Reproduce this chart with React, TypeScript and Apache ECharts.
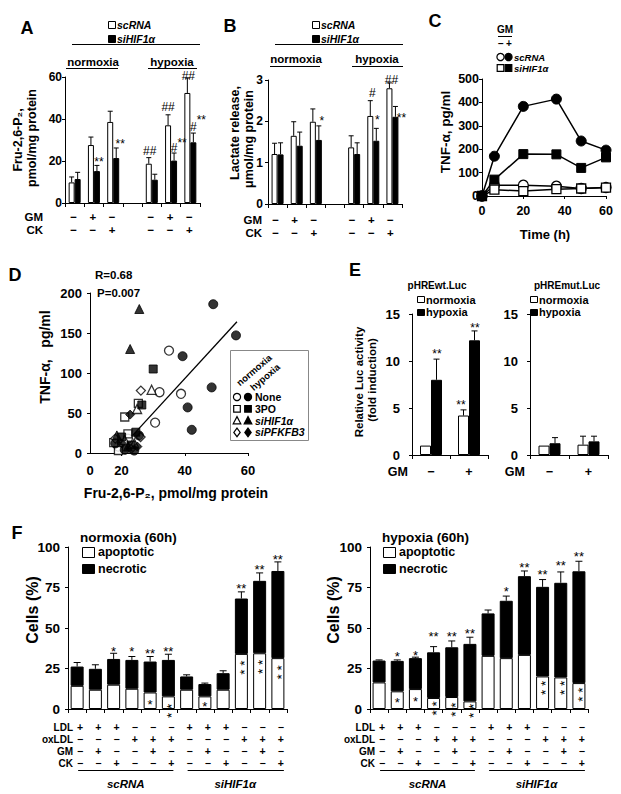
import React, { useEffect, useRef } from "react";
import * as echarts from "echarts";

const FF = "'Liberation Sans', Arial, 'DejaVu Sans', sans-serif";

// ---------- Panel A : Fru-2,6-P2 ----------
const aCats = ["n1", "n2", "n3", "gap", "h1", "h2", "h3"];
const aScRNA = [9.8, 27.6, 38.6, null, 18.7, 37.0, 52.4];
const aScRNAErr = [12.4, 31.4, 43.7, null, 21.6, 42.0, 59.5];
const aSiHIF = [11.4, 15.2, 21.4, null, 11.1, 20.2, 28.9];
const aSiHIFErr = [14.6, 17.9, 26.2, null, 13.7, 23.8, 33.3];
const aNotes = [
  { c: 4, v: 24.6, dx: -2, t: "##" },
  { c: 5, v: 45.7, dx: -3, t: "##" },
  { c: 6, v: 60.7, dx: -2, t: "##" },
  { c: 1, v: 21, dx: 5, t: "**" },
  { c: 2, v: 29.3, dx: 7, t: "**" },
  { c: 5, v: 26.2, dx: 3, t: "#" },
  { c: 5, v: 30.2, dx: 11, t: "**" },
  { c: 6, v: 36.2, dx: 3, t: "#" },
  { c: 6, v: 41, dx: 11, t: "**" },
];

// ---------- Panel B : lactate ----------
const bCats = ["n1", "n2", "n3", "gap", "h1", "h2", "h3"];
const bScRNA = [1.21, 1.65, 1.99, null, 1.37, 2.13, 2.8];
const bScRNAErr = [1.47, 1.99, 2.3, null, 1.65, 2.5, 2.93];
const bSiHIF = [1.2, 1.41, 1.55, null, 1.21, 1.53, 2.11];
const bSiHIFErr = [1.48, 1.74, 1.89, null, 1.48, 1.83, 2.36];
const bNotes = [
  { c: 2, v: 2.07, dx: 6, t: "*" },
  { c: 5, v: 2.68, dx: -1, t: "#" },
  { c: 5, v: 2.1, dx: 4, t: "*" },
  { c: 6, v: 3.0, dx: -1, t: "##" },
  { c: 6, v: 2.15, dx: 9, t: "**" },
];
const abGM = ["−", "+", "−", "", "−", "+", "−"];
const abCK = ["−", "−", "+", "", "−", "−", "+"];

// ---------- Panel C : TNF-α time course ----------
const cTime = [0, 6, 20, 36, 48, 60];
const cScNeg = [0, 46, 46, 42, 32, 36];
const cSiNeg = [0, 27, 21, 29, 32, 36];
const cScPos = [0, 170, 383, 414, 235, 196];
const cSiPos = [0, 70, 179, 178, 120, 165];

// ---------- Panel D : correlation ----------
const dNoneN = [[35, 128], [32, 76], [38.8, 74], [30.6, 38], [19, 8], [22, 18]];
const dNoneH = [[49, 186], [56.2, 147], [39.3, 121], [48.5, 82], [40.9, 57], [42.2, 29], [21, 4], [24, 3], [25.5, 22], [18, 12]];
const d3poN = [[21, 45], [25.3, 62], [17.5, 13], [19, 3], [22, 24]];
const d3poH = [[30, 105], [26.4, 60], [20, 20], [23, 10], [24.5, 26]];
const dSiHifN = [[29.5, 79], [24.9, 55], [21, 16], [24, 12]];
const dSiHifH = [[25.6, 180], [22.7, 130], [22, 8], [18.5, 22]];
const dSiPfkN = [[26.1, 78], [26, 20], [18, 18], [23, 5]];
const dSiPfkH = [[22.7, 48], [20, 12], [25, 8]];
const dFit = [[23.5, 22], [56.5, 164]];

// ---------- Panel E : luciferase ----------
const eCats = ["−", "+"];
const eWtNorm = [1.0, 4.2];
const eWtNormErr = [1.0, 4.8];
const eWtHyp = [8.0, 12.2];
const eWtHypErr = [10.2, 13.2];
const eMutNorm = [1.0, 1.1];
const eMutNormErr = [1.0, 2.0];
const eMutHyp = [1.25, 1.45];
const eMutHypErr = [1.85, 2.0];
const eNotes = [
  { c: 0, v: 11.1, dx: 6, t: "**" },
  { c: 1, v: 5.6, dx: -8, t: "**" },
  { c: 1, v: 13.8, dx: 6, t: "**" },
];

// ---------- Panel F : cell death ----------
const fCats = ["1", "2", "3", "4", "5", "6", "7", "8", "9", "10", "11", "12"];
const fNormApop = [14.3, 11.9, 15, 12.5, 10.2, 7.8, 11.9, 7.8, 11.9, 34, 34.4, 31.4];
const fNormNecr = [11.9, 12.9, 15.9, 17.8, 19.1, 22.5, 8.2, 7.6, 10.2, 34.2, 44.7, 53.8];
const fNormErr = [28.7, 27.3, 34.4, 32.4, 32.4, 33.8, 21.1, 16, 23.6, 72.3, 84, 90.8];
const fHypApop = [16.4, 10.9, 12.3, 6.8, 7.4, 4.7, 32.8, 31.4, 33.4, 20.1, 19.5, 16];
const fHypNecr = [13.5, 18.8, 19.1, 28.2, 30.7, 35.5, 26.2, 35.4, 48.6, 55.3, 58.4, 69];
const fHypErr = [30.3, 30.3, 32, 38.5, 42, 44.3, 61.1, 69.7, 85.2, 79.9, 84.6, 91.2];
// "*|*" = two asterisks stacked vertically
const fNormNotes = [
  { c: 2, v: 37.5, dx: 0, t: "*" }, { c: 3, v: 37.5, dx: 0, t: "*" },
  { c: 4, v: 36.5, dx: 0, t: "**" }, { c: 5, v: 37.5, dx: 0, t: "**" },
  { c: 9, v: 76.4, dx: 0, t: "**" }, { c: 10, v: 88, dx: 0, t: "**" }, { c: 11, v: 94.3, dx: 0, t: "**" },
  { c: 4, v: 4.7, dx: 0, t: "*" }, { c: 5, v: -1.2, dx: 0, t: "*|*" },
  { c: 7, v: 3.7, dx: 0, t: "*" },
  { c: 9, v: 25.6, dx: 0, t: "*|*" },
  { c: 10, v: 26, dx: 0, t: "*|*" },
  { c: 11, v: 22.6, dx: 0, t: "*|*" },
];
const fHypNotes = [
  { c: 1, v: 34.4, dx: 0, t: "*" }, { c: 2, v: 34.8, dx: 0, t: "*" },
  { c: 3, v: 46.7, dx: 0, t: "**" }, { c: 4, v: 46.7, dx: 0, t: "**" }, { c: 5, v: 48.8, dx: 0, t: "**" },
  { c: 7, v: 74.4, dx: 0, t: "*" }, { c: 8, v: 89.3, dx: 0, t: "**" }, { c: 9, v: 85, dx: 0, t: "**" },
  { c: 10, v: 90.8, dx: 0, t: "**" }, { c: 11, v: 96.3, dx: 0, t: "**" },
  { c: 1, v: 6.1, dx: 0, t: "*" }, { c: 2, v: 6.8, dx: 0, t: "*" },
  { c: 3, v: 0.4, dx: 0, t: "*|*" },
  { c: 4, v: -0.4, dx: 0, t: "*|*" },
  { c: 5, v: -1.2, dx: 0, t: "*|*" },
  { c: 9, v: 13.1, dx: 0, t: "*|*" },
  { c: 10, v: 13.1, dx: 0, t: "*|*" },
  { c: 11, v: 8.8, dx: 0, t: "*|*" },
];
const fLDL = ["+", "+", "+", "−", "−", "−", "+", "+", "+", "−", "−", "−"];
const fOxLDL = ["−", "−", "−", "+", "+", "+", "−", "−", "−", "+", "+", "+"];
const fGM = ["−", "+", "−", "−", "+", "−", "−", "+", "−", "−", "+", "−"];
const fCK = ["−", "−", "+", "−", "−", "+", "−", "−", "+", "−", "−", "+"];

// ---------- helpers ----------
function errSeries(axis: number, tops: any[], errs: any[], dx: number, cap: number) {
  const data: number[][] = [];
  tops.forEach((t, i) => {
    const e = errs[i];
    if (t != null && e != null && e > t) data.push([i, t, e]);
  });
  return {
    type: "custom", xAxisIndex: axis, yAxisIndex: axis, data, silent: true, z: 4,
    encode: { x: 0, y: [1, 2] },
    renderItem: (_p: any, api: any) => {
      const a = api.coord([api.value(0), api.value(1)]);
      const b = api.coord([api.value(0), api.value(2)]);
      const x = a[0] + dx;
      return {
        type: "group",
        children: [
          { type: "line", shape: { x1: x, y1: a[1], x2: x, y2: b[1] }, style: { stroke: "#000", lineWidth: 1 } },
          { type: "line", shape: { x1: x - cap, y1: b[1], x2: x + cap, y2: b[1] }, style: { stroke: "#000", lineWidth: 1 } },
        ],
      };
    },
  };
}

function sumArr(a: number[], b: number[]) {
  return a.map((v, i) => v + b[i]);
}

const axLine = { show: true, lineStyle: { color: "#000", width: 1 } };
const axTick = { show: true, length: 3, lineStyle: { color: "#000", width: 1 } };
const lbl = (size: number, margin: number) => ({
  color: "#000", fontFamily: FF, fontWeight: "bold", fontSize: size, margin,
});
const valY = (grid: number, max: number, interval: number, size: number, margin: number) => ({
  type: "value", gridIndex: grid, min: 0, max, interval,
  axisLine: axLine, axisTick: axTick, splitLine: { show: false }, axisLabel: lbl(size, margin),
});
const catX = (grid: number, data: string[]) => ({
  type: "category", gridIndex: grid, data,
  axisLine: axLine, axisTick: { ...axTick, interval: 0, length: 4 },
  axisLabel: { show: false }, splitLine: { show: false },
});

const whiteBar = { color: "#fff", borderColor: "#000", borderWidth: 1 };
const blackBar = { color: "#000", borderColor: "#000", borderWidth: 1 };

function pairBars(axis: number, w: number, white: any[], black: any[]) {
  return [
    { type: "bar", xAxisIndex: axis, yAxisIndex: axis, data: white, barWidth: w, barGap: "0%", itemStyle: whiteBar, silent: true },
    { type: "bar", xAxisIndex: axis, yAxisIndex: axis, data: black, barWidth: w, barGap: "0%", itemStyle: blackBar, silent: true },
  ];
}

function lineSeries(vals: number[], symbol: string, size: number, filled: boolean) {
  return {
    type: "line", xAxisIndex: 2, yAxisIndex: 2,
    data: cTime.map((t, i) => [t, vals[i]]),
    symbol, symbolSize: size, showSymbol: true,
    lineStyle: { color: "#000", width: 1.5 },
    itemStyle: filled ? { color: "#000", borderColor: "#000" } : { color: "#fff", borderColor: "#000", borderWidth: 1.3 },
    silent: true,
  };
}

function scat(data: number[][], symbol: string, size: number, filled: boolean) {
  return {
    type: "scatter", xAxisIndex: 3, yAxisIndex: 3, data, symbol, symbolSize: size, silent: true,
    itemStyle: filled ? { color: "#000", borderColor: "#000", borderWidth: 1 } : { color: "#fff", borderColor: "#000", borderWidth: 1.3 },
  };
}

function stackBars(axis: number, apop: number[], necr: number[], err: number[]) {
  const tot = sumArr(apop, necr);
  return [
    { type: "bar", xAxisIndex: axis, yAxisIndex: axis, data: apop, stack: "s" + axis, barWidth: 13, itemStyle: whiteBar, silent: true },
    { type: "bar", xAxisIndex: axis, yAxisIndex: axis, data: necr, stack: "s" + axis, barWidth: 13, itemStyle: blackBar, silent: true },
    errSeries(axis, tot, err, 0, 3.5),
  ];
}

function buildOption() {
  return {
    animation: false,
    backgroundColor: "#fff",
    textStyle: { fontFamily: FF },
    grid: [
      { left: 65, top: 77, width: 135, height: 126 },
      { left: 268, top: 80, width: 134, height: 124 },
      { left: 482, top: 79, width: 124, height: 117 },
      { left: 90, top: 293, width: 158, height: 160 },
      { left: 412, top: 314, width: 76, height: 141 },
      { left: 530, top: 314, width: 78, height: 141 },
      { left: 68, top: 547, width: 219, height: 162 },
      { left: 370, top: 547, width: 218, height: 162 },
    ],
    xAxis: [
      catX(0, aCats),
      catX(1, bCats),
      {
        type: "value", gridIndex: 2, min: 0, max: 60, interval: 20,
        axisLine: axLine, axisTick: axTick, splitLine: { show: false }, axisLabel: lbl(12.5, 8),
      },
      {
        type: "value", gridIndex: 3, min: 10, max: 60, interval: 10,
        axisLine: axLine,
        axisTick: { ...axTick, customValues: [20, 40, 60] },
        splitLine: { show: false },
        axisLabel: {
          ...lbl(13, 11), customValues: [10, 20, 40, 60],
          formatter: (v: number) => (v === 10 ? "0" : v % 20 === 0 ? String(v) : ""),
        },
      },
      catX(4, eCats),
      catX(5, eCats),
      catX(6, fCats),
      catX(7, fCats),
    ],
    yAxis: [
      valY(0, 60, 20, 12, 3),
      valY(1, 3, 1, 12, 5),
      valY(2, 500, 100, 12.5, 3),
      valY(3, 200, 50, 13, 8),
      valY(4, 15, 5, 13, 12),
      valY(5, 15, 5, 13, 12),
      valY(6, 100, 25, 13.5, 8),
      valY(7, 100, 25, 13.5, 8),
    ],
    series: [
      // A
      ...pairBars(0, 6, aScRNA, aSiHIF),
      errSeries(0, aScRNA, aScRNAErr, -3, 2.5),
      errSeries(0, aSiHIF, aSiHIFErr, 3, 2.5),
      // B
      ...pairBars(1, 6, bScRNA, bSiHIF),
      errSeries(1, bScRNA, bScRNAErr, -3, 2.5),
      errSeries(1, bSiHIF, bSiHIFErr, 3, 2.5),
      // C
      lineSeries(cScNeg, "circle", 10, false),
      lineSeries(cSiNeg, "rect", 9, false),
      lineSeries(cScPos, "circle", 10, true),
      lineSeries(cSiPos, "rect", 9, true),
      // D
      {
        type: "line", xAxisIndex: 3, yAxisIndex: 3, data: dFit, symbol: "none",
        lineStyle: { color: "#000", width: 1.3 }, silent: true,
      },
      scat(dNoneN, "circle", 9, false),
      scat(d3poN, "rect", 8, false),
      scat(dSiHifN, "triangle", 9, false),
      scat(dSiPfkN, "diamond", 9, false),
      scat(dNoneH, "circle", 9, true),
      scat(d3poH, "rect", 8, true),
      scat(dSiHifH, "triangle", 9, true),
      scat(dSiPfkH, "diamond", 9, true),
      // E
      ...pairBars(4, 11, eWtNorm, eWtHyp),
      errSeries(4, eWtNorm, eWtNormErr, -5.5, 3),
      errSeries(4, eWtHyp, eWtHypErr, 5.5, 3),
      ...pairBars(5, 11, eMutNorm, eMutHyp),
      errSeries(5, eMutNorm, eMutNormErr, -5.5, 3),
      errSeries(5, eMutHyp, eMutHypErr, 5.5, 3),
      // F
      ...stackBars(6, fNormApop, fNormNecr, fNormErr),
      ...stackBars(7, fHypApop, fHypNecr, fHypErr),
    ],
  };
}

function buildGraphic(chart: any) {
  const px = (axis: number, i: number) => chart.convertToPixel({ xAxisIndex: axis }, i) as number;
  const els: any[] = [];
  const T = (x: number, y: number, text: string, o: any = {}) =>
    els.push({
      type: "text", x, y, rotation: o.rot || 0, silent: true, z: 10,
      style: {
        text, fill: "#000", fontFamily: FF, fontSize: o.size || 12,
        fontWeight: o.w || "bold", fontStyle: o.it ? "italic" : "normal",
        align: o.a || "left", verticalAlign: "middle",
      },
    });
  const L = (x1: number, y1: number, x2: number, y2: number, stroke = "#000") =>
    els.push({ type: "line", silent: true, z: 10, shape: { x1, y1, x2, y2 }, style: { stroke, lineWidth: 1 } });
  const R = (x: number, y: number, w: number, h: number, fill: string, stroke = "#000") =>
    els.push({ type: "rect", silent: true, z: 10, shape: { x, y, width: w, height: h }, style: { fill, stroke, lineWidth: 1 } });
  const M = (kind: string, cx: number, cy: number, filled: boolean) => {
    const style = { fill: filled ? "#000" : "#fff", stroke: "#000", lineWidth: 1.2 };
    if (kind === "circle") els.push({ type: "circle", silent: true, z: 10, shape: { cx, cy, r: 3.6 }, style });
    else if (kind === "rect") els.push({ type: "rect", silent: true, z: 10, shape: { x: cx - 3.3, y: cy - 3.3, width: 6.6, height: 6.6 }, style });
    else if (kind === "triangle") els.push({ type: "polygon", silent: true, z: 10, shape: { points: [[cx, cy - 4], [cx + 3.8, cy + 3.2], [cx - 3.8, cy + 3.2]] }, style });
    else els.push({ type: "polygon", silent: true, z: 10, shape: { points: [[cx, cy - 4.3], [cx + 3.2, cy], [cx, cy + 4.3], [cx - 3.2, cy]] }, style });
  };
  const V = Math.PI / 2;
  const notes = (axis: number, list: any[], size: number) => {
    list.forEach((n) => {
      const p = chart.convertToPixel({ xAxisIndex: axis, yAxisIndex: axis }, [n.c, n.v]);
      if (n.t === "*|*") {
        T(p[0] + n.dx + size * 0.25, p[1], "* *", { a: "center", size: size + 0.5, w: "normal", rot: V });
      } else {
        const star = n.t.indexOf("*") >= 0;
        T(p[0] + n.dx, p[1] + (star ? size * 0.25 : 0), n.t, { a: "center", size, w: "normal" });
      }
    });
  };

  // Panel letters
  T(27, 28, "A", { size: 18, a: "center" });
  T(230, 26, "B", { size: 18, a: "center" });
  T(435, 21, "C", { size: 18, a: "center" });
  T(15, 275, "D", { size: 18, a: "center" });
  T(355, 270, "E", { size: 18, a: "center" });
  T(17, 533, "F", { size: 18, a: "center" });

  // ---- A ----
  R(108.5, 21.5, 7, 7, "#fff");
  T(117, 25, "scRNA", { it: true, size: 10.5 });
  R(108.5, 35.5, 7, 7, "#000");
  T(117, 39, "siHIF1α", { it: true, size: 10.5 });
  L(72, 44.5, 200, 44.5);
  T(93, 61.5, "normoxia", { a: "center", size: 11.5 });
  L(66, 68.5, 118, 68.5);
  T(172, 61.5, "hypoxia", { a: "center", size: 11.5 });
  L(148, 68.5, 197, 68.5);
  T(18, 140, "Fru-2,6-P₂,", { a: "center", rot: V, size: 12.5 });
  T(32, 138, "pmol/mg protein", { a: "center", rot: V, size: 12.5 });
  T(43, 217, "GM", { a: "right", size: 11.5 });
  T(43, 230, "CK", { a: "right", size: 11.5 });
  abGM.forEach((s, i) => { if (s) T(px(0, i) - 1, 217, s, { a: "center", size: 11.5 }); });
  abCK.forEach((s, i) => { if (s) T(px(0, i) - 1, 230, s, { a: "center", size: 11.5 }); });
  notes(0, aNotes, 12);

  // ---- B ----
  R(312.5, 21.5, 7, 7, "#fff");
  T(321, 25, "scRNA", { it: true, size: 10.5 });
  R(312.5, 35.5, 7, 7, "#000");
  T(321, 39, "siHIF1α", { it: true, size: 10.5 });
  L(275, 44.5, 403, 44.5);
  T(296, 59, "normoxia", { a: "center", size: 11.5 });
  L(270, 66.5, 320, 66.5);
  T(377, 59, "hypoxia", { a: "center", size: 11.5 });
  L(352, 66.5, 403, 66.5);
  T(235, 133, "Lactate release,", { a: "center", rot: V, size: 12.5 });
  T(249, 139, "μmol/mg protein", { a: "center", rot: V, size: 12.5 });
  T(262, 220, "GM", { a: "right", size: 11.5 });
  T(262, 233, "CK", { a: "right", size: 11.5 });
  abGM.forEach((s, i) => { if (s) T(px(1, i) - 2, 220, s, { a: "center", size: 11.5 }); });
  abCK.forEach((s, i) => { if (s) T(px(1, i) - 2, 233, s, { a: "center", size: 11.5 }); });
  notes(1, bNotes, 12);

  // ---- C ----
  T(505, 29, "GM", { a: "center", size: 10 });
  L(498, 36.5, 512, 36.5);
  T(501, 43, "−", { a: "center", size: 10 });
  T(509, 43, "+", { a: "center", size: 10 });
  M("circle", 500.5, 57, false);
  M("circle", 508.5, 57, true);
  T(514, 57, "scRNA", { it: true, size: 9.5 });
  M("rect", 500.5, 68, false);
  M("rect", 508.5, 68, true);
  T(514, 68, "siHIF1α", { it: true, size: 9.5 });
  T(445, 132, "TNF-α, pg/ml", { a: "center", rot: V, size: 13.5 });
  T(545, 234, "Time (h)", { a: "center", size: 13 });

  // ---- D ----
  T(95, 275, "R=0.68", { size: 11.5 });
  T(97, 293, "P=0.007", { size: 11.5 });
  R(230.5, 350.5, 78, 90, "#fff", "#888");
  T(254, 370, "normoxia", { a: "center", rot: 0.71, size: 9.5 });
  T(265, 377, "hypoxia", { a: "center", rot: 0.71, size: 9.5 });
  const legRows = [
    ["circle", "None", false, 397],
    ["rect", "3PO", false, 408.8],
    ["triangle", "siHIF1α", true, 420.6],
    ["diamond", "siPFKFB3", true, 432.4],
  ] as any[];
  legRows.forEach((r) => {
    M(r[0], 237, r[3], false);
    M(r[0], 248, r[3], true);
    T(255, r[3], r[1], { it: r[2], size: 10.5 });
  });
  T(176, 493, "Fru-2,6-P₂, pmol/mg protein", { a: "center", size: 14 });
  T(45, 357, "TNF-α,   pg/ml", { a: "center", rot: V, size: 14 });

  // ---- E ----
  T(437, 285, "pHREwt.Luc", { a: "center", size: 10 });
  R(417.5, 296.5, 7, 6, "#fff");
  T(426, 299.5, "normoxia", { size: 11 });
  R(417.5, 309.5, 7, 6, "#000");
  T(426, 312, "hypoxia", { size: 11 });
  T(567, 285, "pHREmut.Luc", { a: "center", size: 10 });
  R(530.5, 296.5, 7, 6, "#fff");
  T(539, 299.5, "normoxia", { size: 11 });
  R(530.5, 309.5, 7, 6, "#000");
  T(539, 312, "hypoxia", { size: 11 });
  T(358.5, 382, "Relative Luc activity", { a: "center", rot: V, size: 11.5 });
  T(371.5, 380, "(fold induction)", { a: "center", rot: V, size: 11.5 });
  T(408, 472, "GM", { a: "right", size: 12.5 });
  T(525, 472, "GM", { a: "right", size: 12.5 });
  eCats.forEach((s, i) => {
    T(px(4, i), 472, s, { a: "center", size: 12.5 });
    T(px(5, i), 472, s, { a: "center", size: 12.5 });
  });
  notes(4, eNotes, 12);

  // ---- F ----
  const fPanels = [
    { axis: 6, title: "normoxia (60h)", tx: 80, ix: 82.5, lx: 98, rowX: 73, ytx: 32, n: fNormNotes },
    { axis: 7, title: "hypoxia (60h)", tx: 382, ix: 383.5, lx: 399, rowX: 375, ytx: 333, n: fHypNotes },
  ];
  const rowNames = ["LDL", "oxLDL", "GM", "CK"];
  const rowVals = [fLDL, fOxLDL, fGM, fCK];
  const rowY = [727, 739, 751, 763];
  fPanels.forEach((p) => {
    T(p.tx, 537, p.title, { size: 13.5 });
    R(p.ix, 547.5, 12, 10, "#fff");
    T(p.lx, 552, "apoptotic", { size: 12.5 });
    R(p.ix, 564.5, 12, 9, "#000");
    T(p.lx, 569, "necrotic", { size: 12.5 });
    T(p.ytx, 610, "Cells (%)", { a: "center", rot: V, size: 16 });
    rowNames.forEach((n, r) => {
      T(p.rowX, rowY[r], n, { a: "right", size: 10 });
      rowVals[r].forEach((s, i) => T(px(p.axis, i) + 3, rowY[r], s, { a: "center", size: 10.5 }));
    });
    const a0 = px(p.axis, 0), a5 = px(p.axis, 5), a6 = px(p.axis, 6), a11 = px(p.axis, 11);
    L(a0 + 1, 770.5, a5 + 5, 770.5);
    L(a6 + 1, 770.5, a11 + 6, 770.5);
    T((a0 + a5) / 2 + 3, 784, "scRNA", { a: "center", it: true, size: 11.5 });
    T((a6 + a11) / 2 + 3, 784, "siHIF1α", { a: "center", it: true, size: 11.5 });
    notes(p.axis, p.n, 13);
  });

  return els;
}

export default function App() {
  const ref = useRef<HTMLDivElement>(null);
  useEffect(() => {
    const chart = echarts.init(ref.current!, null, { renderer: "svg", width: 621, height: 794 });
    chart.setOption(buildOption() as any);
    chart.setOption({ graphic: buildGraphic(chart) } as any);
    return () => chart.dispose();
  }, []);
  return (
    <div
      ref={ref}
      style={{ position: "absolute", left: 0, top: 0, width: 621, height: 794, background: "#fff" }}
    />
  );
}
